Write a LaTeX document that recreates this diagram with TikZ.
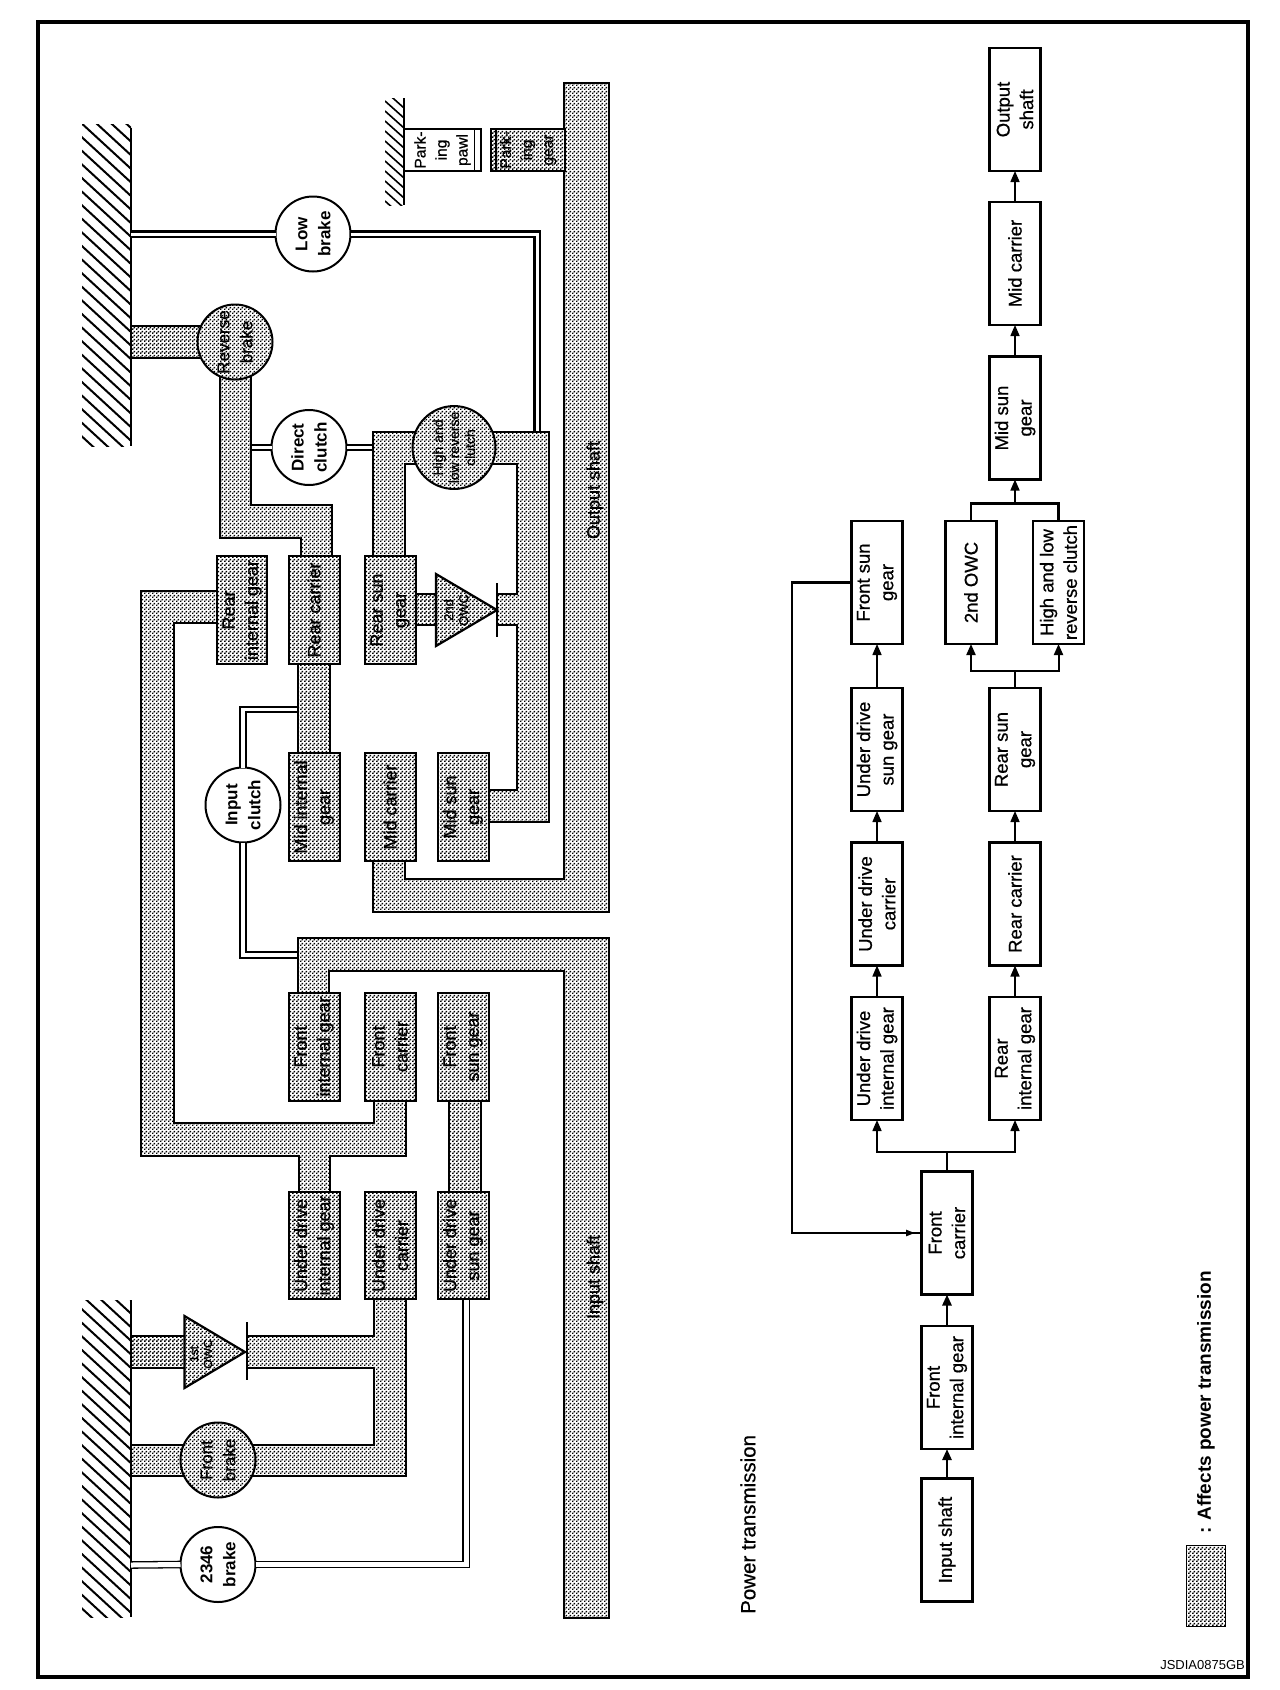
\documentclass[tikz,border=0pt]{standalone}
\usepackage{fontspec}
\setmainfont{Liberation Sans}
\newfontfamily\lab[FakeBold=0.7]{Liberation Sans}
\usetikzlibrary{arrows.meta,patterns}
\pgfdeclarepatternformonly{dither}{\pgfpoint{0pt}{0pt}}{\pgfpoint{4pt}{4pt}}{\pgfpoint{4pt}{4pt}}{%
  \pgfpathrectangle{\pgfpoint{0pt}{0pt}}{\pgfpoint{1.85pt}{1.85pt}}%
  \pgfpathrectangle{\pgfpoint{2pt}{2pt}}{\pgfpoint{1.85pt}{1.85pt}}%
  \pgfusepath{fill}}
\tikzset{
  frameline/.style={line width=4pt},
  metalfill/.style={preaction={fill=white},pattern=dither,pattern color=black},
  metalbar/.style={draw=black,metalfill,line width=2.2pt,line join=miter},
  gearbox/.style={draw=black,metalfill,line width=2pt,rotate=90,align=center,inner sep=0pt,outer sep=0pt,
     minimum width=108pt,minimum height=51pt,font=\lab\fontsize{18}{23}\selectfont},
  blockbox/.style={draw=black,fill=white,line width=2.2pt,rotate=90,align=center,inner sep=0pt,outer sep=0pt,
     minimum width=123pt,minimum height=51pt,font=\lab\fontsize{18.5}{23.5}\selectfont},
  disc/.style={circle,draw=black,line width=2pt,fill=white,rotate=90,align=center,inner sep=0pt,outer sep=0pt,
     minimum size=75pt,font=\bfseries\fontsize{17}{23}\selectfont},
  metaldisc/.style={circle,draw=black,line width=2pt,metalfill,rotate=90,align=center,inner sep=0pt,outer sep=0pt,
     minimum size=75pt,font=\lab\fontsize{17}{23}\selectfont},
  vlabel/.style={rotate=90,align=center,inner sep=0pt,font=\lab\fontsize{18}{22}\selectfont},
  dblheavy/.style={draw=black,double=white,double distance=3pt,line width=2.7pt},
  dblline/.style={draw=black,double=white,double distance=3.5pt,line width=1.8pt},
  dblthin/.style={draw=black,double=white,double distance=5pt,line width=1.3pt},
  hatchline/.style={line width=2pt},
  groundline/.style={line width=2.6pt},
  plate/.style={line width=2pt},
  flow/.style={line width=1.6pt,-{Triangle[length=11pt,width=9pt]}},
  flowbar/.style={line width=2pt},
}
\begin{document}
\begin{tikzpicture}[x=1pt,y=-1pt]
\useasboundingbox (0,0) rectangle (1280,1690);
\fill[white] (0,0) rectangle (1280,1690);
\draw[frameline] (38,22) rectangle (1248,1677);

% ground hatching
\begin{scope}
\clip (82,124) rectangle (131,446);
\foreach \y in {128,141.6,...,520}{\draw[hatchline] (131,\y) -- (81,\y-46);}
\end{scope}
\begin{scope}
\clip (82,1300) rectangle (131,1617);
\foreach \y in {1300,1313.6,...,1680}{\draw[hatchline] (131,\y) -- (81,\y-46);}
\end{scope}
\begin{scope}
\clip (385,98) rectangle (404,205);
\foreach \y in {98,108,...,225}{\draw[line width=1.6pt] (404,\y) -- (385,\y-17);}
\end{scope}
\coordinate (gtA) at (131,128); \coordinate (gtB) at (131,446);
\coordinate (gbA) at (131,1300); \coordinate (gbB) at (131,1617);
\coordinate (gsA) at (404,98); \coordinate (gsB) at (404,205);
\draw[groundline] (gtA) -- (gtB);
\draw[groundline] (gbA) -- (gbB);
\draw[groundline] (gsA) -- (gsB);

% discs (placed first so that connectors can name them)
\node[disc] (lowbrake) at (313,234) {Low\\brake};
\node[disc] (directcl) at (309,447.5) {Direct\\clutch};
\node[disc] (inputcl) at (243,805) {Input\\clutch};
\node[disc] (brk2346) at (218,1564.5) {2346\\brake};

% thin double connectors
\coordinate (lowG) at (131,234);
\coordinate (lowE) at (537,433);
\coordinate (dirL) at (251,447.5);
\coordinate (dirR) at (374,447.5);
\coordinate (inT) at (299,709.5);
\coordinate (inB) at (299,955);
\coordinate (bG) at (131,1565);
\coordinate (bE) at (466,1299);
\draw[dblheavy] (lowG) -- (lowbrake.north);
\draw[dblheavy] (lowbrake.south) -| (lowE);
\draw[dblline] (dirL) -- (directcl.north);
\draw[dblline] (directcl.south) -- (dirR);
\draw[dblline] (inputcl.east) |- (inT);
\draw[dblline] (inputcl.west) |- (inB);
\draw[dblthin] (bG) -- (brk2346.north);
\draw[dblthin] (brk2346.south) -| (bE);

% shaded shafts
\draw[metalbar] (564,83) -- (609,83) -- (609,912) -- (373,912) -- (373,861) -- (405,861) -- (405,879) -- (564,879) -- cycle;
\draw[metalbar] (298,993) -- (298,938) -- (609,938) -- (609,1618) -- (564,1618) -- (564,971) -- (329,971) -- (329,993) -- cycle;
\draw[metalbar] (373,556) -- (373,432) -- (549,432) -- (549,822) -- (488,822) -- (488,790) -- (517,790) -- (517,625) -- (497,625) -- (497,594) -- (517,594) -- (517,464) -- (405,464) -- (405,556) -- cycle;
\draw[metalbar] (220,360) -- (251,360) -- (251,505) -- (332,505) -- (332,556) -- (301,556) -- (301,538) -- (220,538) -- cycle;
\draw[metalbar] (131,326) rectangle (205,358);
\draw[metalbar] (298,663) rectangle (330,753);
\draw[metalbar] (415,594) rectangle (440,625);
\draw[metalbar] (217,591) -- (141,591) -- (141,1156) -- (299,1156) -- (299,1192) -- (330,1192) -- (330,1156) -- (406,1156) -- (406,1100) -- (374,1100) -- (374,1123) -- (174,1123) -- (174,623) -- (217,623) -- cycle;
\draw[metalbar] (449,1100) rectangle (481,1192);
\draw[metalbar] (374,1299) -- (374,1336) -- (247,1336) -- (247,1368) -- (374,1368) -- (374,1445) -- (131,1445) -- (131,1476) -- (406,1476) -- (406,1299) -- cycle;
\draw[metalbar] (131,1336) rectangle (190,1368);

% one-way clutches
\draw[metalbar] (436,574) -- (497,610) -- (436,646) -- cycle;
\coordinate (plTa) at (497,583); \coordinate (plTb) at (497,637);
\draw[plate] (plTa) -- (plTb);
\draw[metalbar] (184.5,1316) -- (245,1352) -- (184.5,1388) -- cycle;
\coordinate (plBa) at (247,1322); \coordinate (plBb) at (247,1380);
\draw[plate] (plBa) -- (plBb);
\node[vlabel,font=\lab\fontsize{13}{15}\selectfont] (owc2l) at (456,610) {2nd\\OWC};
\node[vlabel,font=\lab\fontsize{12}{14}\selectfont] (owc1l) at (201,1354) {1st\\OWC};

% parking
\node[draw,line width=2pt,rotate=90,align=center,inner sep=0pt,outer sep=0pt,minimum width=42pt,minimum height=77pt,font=\lab\fontsize{15.5}{21}\selectfont] (pawl) at (442.5,150) {Park-\\ing\\pawl};
\coordinate (pawlA) at (474.5,129); \coordinate (pawlB) at (474.5,171);
\draw[line width=1.3pt] (pawlA) -- (pawlB);
\node[draw,metalfill,line width=2pt,rotate=90,align=center,inner sep=0pt,outer sep=0pt,minimum width=42pt,minimum height=74pt,font=\lab\fontsize{15.5}{21}\selectfont] (pgear) at (528,150) {Park-\\ing\\gear};
\coordinate (pgearA) at (496,129); \coordinate (pgearB) at (496,171);
\draw[line width=1.3pt] (pgearA) -- (pgearB);

% shaded discs
\node[metaldisc] (revbrake) at (235,342) {Reverse\\brake};
\node[metaldisc,font=\lab\fontsize{14}{16}\selectfont] (hlrcl) at (454,447.5) {High and\\low reverse\\clutch};
\node[metaldisc] (frontbrake) at (218,1460) {Front\\brake};

% gear boxes
\node[gearbox,minimum height=50pt] (rearint) at (242,610) {Rear\\internal gear};
\node[gearbox] (rearcar) at (314,610) {Rear carrier};
\node[gearbox] (rearsun) at (390,610) {Rear sun\\gear};
\node[gearbox] (midint) at (314,807) {Mid internal\\gear};
\node[gearbox] (midcar) at (390,807) {Mid carrier};
\node[gearbox] (midsun) at (463,807) {Mid sun\\gear};
\node[gearbox] (frontint) at (314,1046.5) {Front\\internal gear};
\node[gearbox] (frontcar) at (390,1046.5) {Front\\carrier};
\node[gearbox] (frontsun) at (463,1046.5) {Front\\sun gear};
\node[gearbox,minimum width=107pt] (udint) at (314,1245.5) {Under drive\\internal gear};
\node[gearbox,minimum width=107pt] (udcar) at (390,1245.5) {Under drive\\carrier};
\node[gearbox,minimum width=107pt] (udsun) at (463,1245.5) {Under drive\\sun gear};

\node[vlabel] (outlab) at (595,490) {Output shaft};
\node[vlabel] (inlab) at (595,1277) {Input shaft};

% block diagram
\node[blockbox] (bOut) at (1015,109.5) {Output\\shaft};
\node[blockbox] (bMidC) at (1015,263.5) {Mid carrier};
\node[blockbox] (bMidS) at (1015,418) {Mid sun\\gear};
\node[blockbox] (bOwc) at (971,582.5) {2nd OWC};
\node[blockbox] (bHlr) at (1058.5,582.5) {High and low\\reverse clutch};
\node[blockbox] (bRS) at (1015,749.5) {Rear sun\\gear};
\node[blockbox] (bRC) at (1015,904) {Rear carrier};
\node[blockbox] (bRI) at (1015,1058.5) {Rear\\internal gear};
\node[blockbox] (bFS) at (877,582.5) {Front sun\\gear};
\node[blockbox] (bUS) at (877,749.5) {Under drive\\sun gear};
\node[blockbox] (bUC) at (877,904) {Under drive\\carrier};
\node[blockbox] (bUI) at (877,1058.5) {Under drive\\internal gear};
\node[blockbox] (bFC) at (947,1233) {Front\\carrier};
\node[blockbox] (bFI) at (947,1387.5) {Front\\internal gear};
\node[blockbox] (bIn) at (947,1540) {Input shaft};

\coordinate (jTop) at (1015,503.5);
\coordinate (jLow) at (1015,671);
\coordinate (jFront) at (947,1152);
\coordinate (fbA) at (792,582.5);
\coordinate (fbB) at (792,1233);

\draw[flow] (bMidC.east) -- (bOut.west);
\draw[flow] (bMidS.east) -- (bMidC.west);
\draw[flow] (jTop) -- (bMidS.west);
\draw[flowbar,line width=2.6pt] (bOwc.east) |- (jTop) -| (bHlr.east);
\draw[line width=1.6pt] (bRS.east) -- (jLow);
\draw[flow,line width=2pt] (jLow) -| (bOwc.west);
\draw[flow,line width=2pt] (jLow) -| (bHlr.west);
\draw[flow] (bUS.east) -- (bFS.west);
\draw[flow] (bUC.east) -- (bUS.west);
\draw[flow] (bUI.east) -- (bUC.west);
\draw[flow] (bRC.east) -- (bRS.west);
\draw[flow] (bRI.east) -- (bRC.west);
\draw[line width=2.4pt] (bFC.east) -- (jFront);
\draw[flow] (jFront) -| (bUI.west);
\draw[flow] (jFront) -| (bRI.west);
\draw[flow,line width=2.6pt] (bFI.east) -- (bFC.west);
\draw[flow,line width=2.6pt] (bIn.east) -- (bFI.west);
\draw[line width=2.4pt] (bFS.north) -- (fbA) -- (fbB) -- (bFC.north);
\coordinate (fbTip) at (915,1233);
\draw[line width=2.4pt,-{Triangle[length=9pt,width=6pt]}] (fbB) -- (fbTip);

% captions
\node[rotate=90,anchor=west,inner sep=0pt,font=\lab\fontsize{20.5}{23}\selectfont] (powertext) at (748,1614) {Power transmission};
\node[draw,metalfill,line width=1pt,inner sep=0pt,outer sep=0pt,minimum width=39pt,minimum height=81pt] (legendbox) at (1206,1585.5) {};
\node[rotate=90,anchor=west,inner sep=0pt,font=\bfseries\fontsize{19}{22}\selectfont] (legendtext) at (1206,1534) {: Affects power transmission};
\node[anchor=east,inner sep=0pt,font=\fontsize{13}{14}\selectfont] (code) at (1245,1665) {JSDIA0875GB};
\end{tikzpicture}
\end{document}
